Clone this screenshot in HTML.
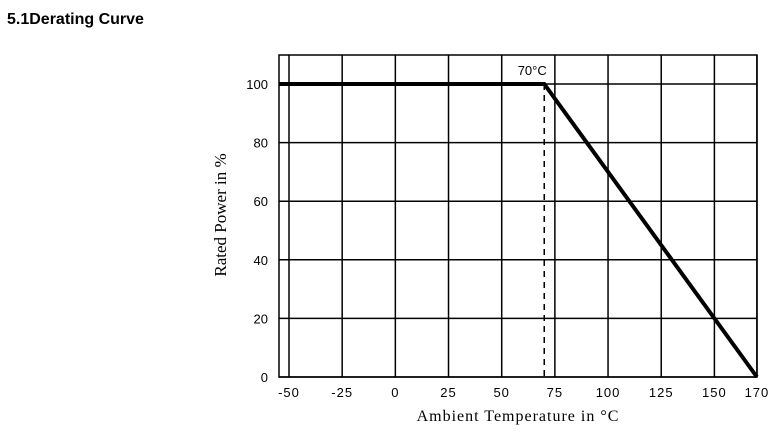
<!DOCTYPE html>
<html><head><meta charset="utf-8"><style>
body{margin:0;background:#fff;width:775px;height:439px;overflow:hidden}
svg{display:block}
</style></head><body>
<svg width="775" height="439">
<text x="7" y="24" font-family="Liberation Sans, sans-serif" font-weight="bold" font-size="16">5.1Derating Curve</text>
<g id="plot"></g>
</svg>
<script>
const xTicks=[-50,-25,0,25,50,75,100,125,150,170];
const yTicks=[0,20,40,60,80,100];
const curveT=[-54.7,70,170];
const curveP=[100,100,0];
const kneeT=70;
const X=t=>289+(t+50)*2.127;
const Y=v=>377-v*2.93;
const g=document.getElementById('plot');
const NS='http://www.w3.org/2000/svg';
function mk(tag,attrs){const e=document.createElementNS(NS,tag);for(const k in attrs)e.setAttribute(k,attrs[k]);g.appendChild(e);return e;}
let r=mk('rect',{x:279,y:55,width:478,height:322,fill:'none',stroke:'#000','stroke-width':1.5});


xTicks.forEach(t=>{
 let l=mk('line',{x1:X(t),x2:X(t),y1:55,y2:377,stroke:'#000','stroke-width':1.5});
 
 
 let tx=mk('text',{x:X(t),y:397,'text-anchor':'middle','font-family':'Liberation Sans, sans-serif','font-size':13,'letter-spacing':1});
 tx.textContent=t;
 
 
});
yTicks.forEach(v=>{
 let l=mk('line',{x1:279,x2:757,y1:Y(v),y2:Y(v),stroke:'#000','stroke-width':1.5});
 
 
 let tx=mk('text',{x:268,y:Y(v)+5,'text-anchor':'end','font-family':'Liberation Sans, sans-serif','font-size':13});
 tx.textContent=v;
 
 
});
let d=mk('line',{x1:X(kneeT),x2:X(kneeT),y1:Y(100),y2:377,stroke:'#000','stroke-width':1.5,'stroke-dasharray':'6,5'});


let kl=mk('text',{x:X(kneeT)-12,y:75,'text-anchor':'middle','font-family':'Liberation Sans, sans-serif','font-size':13});
kl.textContent='70°C';


let p=mk('polyline',{points:curveT.map((t,i)=>X(t)+','+Y(curveP[i])).join(' '),fill:'none',stroke:'#000','stroke-width':4,'stroke-linejoin':'miter'});


let xt=mk('text',{x:518,y:421,'text-anchor':'middle','font-family':'Liberation Serif, serif','font-size':16,'letter-spacing':1});
xt.textContent='Ambient Temperature in °C';


let yt=mk('text',{x:0,y:0,'text-anchor':'middle','font-family':'Liberation Serif, serif','font-size':17,transform:'translate(226,215) rotate(-90)'});
yt.textContent='Rated Power in %';


</script>
</body></html>
